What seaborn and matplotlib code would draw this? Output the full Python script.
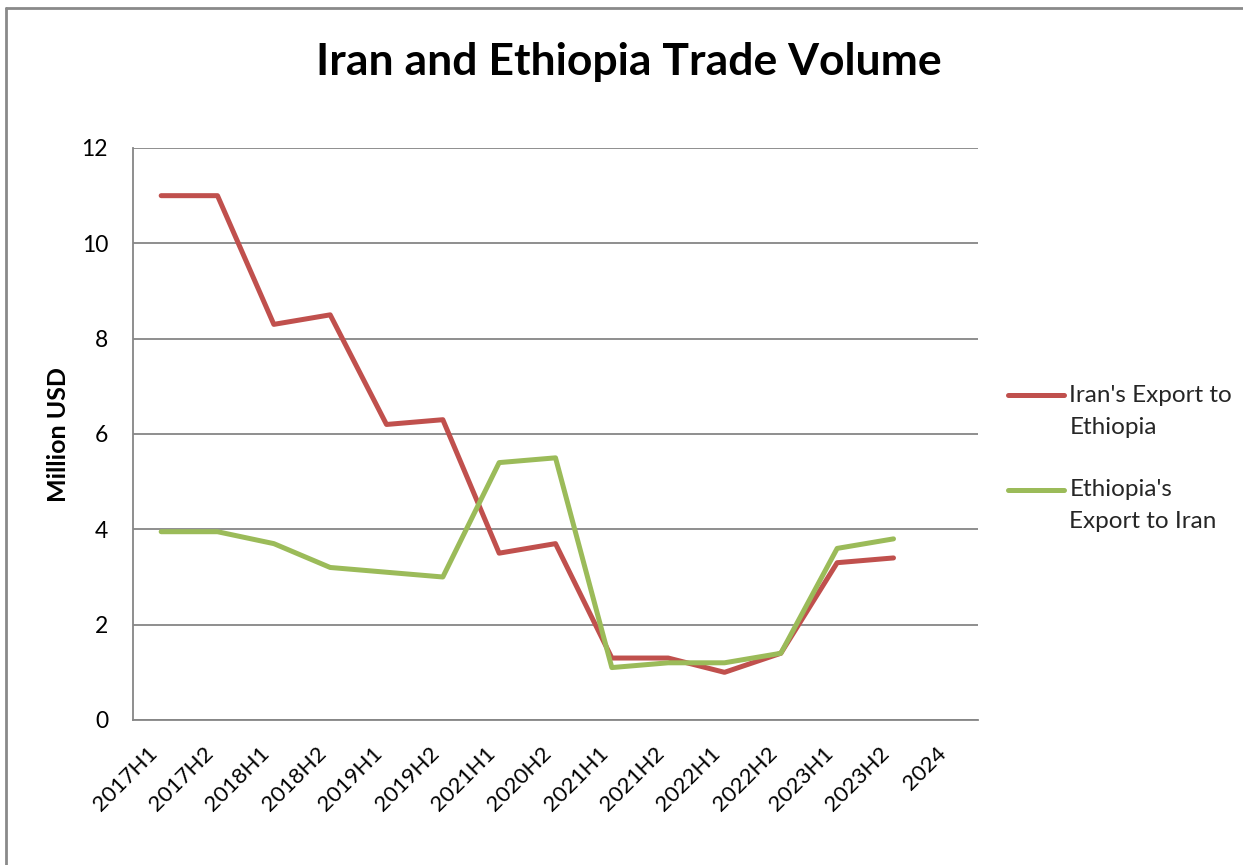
import numpy as np
import pandas as pd
import matplotlib
matplotlib.use("Agg")
import matplotlib.pyplot as plt
import seaborn as sns
from matplotlib.lines import Line2D

categories = ["2017H1", "2017H2", "2018H1", "2018H2", "2019H1", "2019H2", "2021H1",
              "2020H2", "2021H1", "2021H2", "2022H1", "2022H2", "2023H1", "2023H2", "2024"]
iran_export = [11.0, 11.0, 8.3, 8.5, 6.2, 6.3, 3.5, 3.7, 1.3, 1.3, 1.0, 1.4, 3.3, 3.4, np.nan]
ethiopia_export = [3.95, 3.95, 3.7, 3.2, 3.1, 3.0, 5.4, 5.5, 1.1, 1.2, 1.2, 1.4, 3.6, 3.8, np.nan]
series_names = ["Iran's Export to\nEthiopia", "Ethiopia's\nExport to Iran"]
colors = ["#C0504D", "#9BBB59"]
yticks = [0, 2, 4, 6, 8, 10, 12]

sns.set_theme(style="white")
plt.rcParams['font.family'] = ['Lato', 'DejaVu Sans']

n = len(categories)
df = pd.DataFrame({
    "pos": list(range(n)) * 2,
    "value": iran_export + ethiopia_export,
    "series": [series_names[0]] * n + [series_names[1]] * n,
})

W, H = 1243, 865
fig = plt.figure(figsize=(W / 100, H / 100), dpi=100)
ax = fig.add_axes([133 / W, 1 - 720 / H, (978 - 133) / W, (720 - 148) / H])

sns.lineplot(data=df, x="pos", y="value", hue="series", palette=colors,
             linewidth=3.6, ax=ax, estimator=None, legend=False,
             solid_capstyle="round")

grid_c = "#868686"
ax.set_xlim(-0.5, n - 0.5)
ax.set_ylim(0, 12)
ax.set_yticks(yticks)
ax.set_yticklabels([str(t) for t in yticks])
ax.set_xticks(range(n))
ax.set_xticklabels(categories, rotation=45, ha="right", rotation_mode="default")
ax.yaxis.grid(True, color=grid_c, linewidth=1.3)
ax.xaxis.grid(False)
ax.set_axisbelow(True)
for s in ["top", "right"]:
    ax.spines[s].set_visible(False)
for s in ["left", "bottom"]:
    ax.spines[s].set_color(grid_c)
    ax.spines[s].set_linewidth(1.3)
ax.tick_params(axis="y", length=0, labelsize=16.5, pad=18, colors="black")
ax.tick_params(axis="x", length=0, labelsize=16, pad=17, colors="black")
ax.set_xlabel("")
ax.set_ylabel("Million USD", fontsize=18, fontweight="bold", color="black")
ax.yaxis.set_label_coords((70 - 133) / 845, 0.5)

fig.text(629 / W, 1 - 62 / H, "Iran and Ethiopia Trade Volume", fontsize=32,
         fontweight="bold", ha="center", va="center", color="black")

handles = [Line2D([], [], color=c, lw=3.6, solid_capstyle="round") for c in colors]
leg = ax.legend(handles, series_names, loc="upper left",
                bbox_to_anchor=(1008 / W, 1 - 385 / H), bbox_transform=fig.transFigure,
                frameon=False, fontsize=17.5, handlelength=2.3, handletextpad=0.22,
                labelspacing=1.7, borderpad=0, borderaxespad=0, handleheight=1.15)
for t in leg.get_texts():
    t.set_linespacing(1.65)
for col in leg._legend_handle_box.get_children():
    for item in col.get_children():
        item.align = "top"

border_c = "#8a8a8a"
fig.add_artist(Line2D([6 / W, 6 / W], [0, 1 - 8 / H], transform=fig.transFigure,
                      color=border_c, lw=2))
fig.add_artist(Line2D([6 / W, 1], [1 - 8 / H, 1 - 8 / H], transform=fig.transFigure,
                      color=border_c, lw=2))

fig.savefig("out.png", dpi=100)
